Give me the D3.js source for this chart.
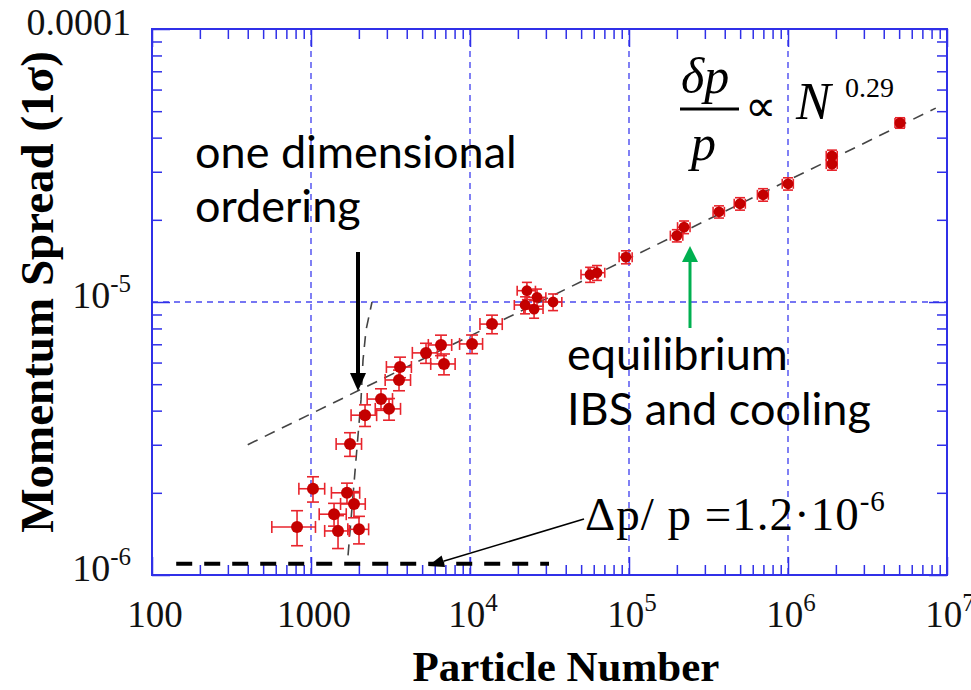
<!DOCTYPE html>
<html>
<head>
<meta charset="utf-8">
<script src="https://cdn.jsdelivr.net/npm/d3@7"></script>
<style>
  body { margin: 0; background: #fff; }
  svg { display: block; }
</style>
</head>
<body>
<svg id="chart" width="971" height="690"></svg>
<script>
// measured points: particle number and momentum spread (spread in units of 1e-6)
var particles   = [817, 1029, 1396, 1479, 1684, 1759, 1864, 2004, 2187, 2756, 3096, 3577, 3630, 5289, 6570, 6861, 10300, 13750,
                   22200, 22800, 26400, 25300, 33300, 56900, 62900, 95700, 200000, 222000, 368000, 499000, 697000, 1000000, 1890000, 1890000, 5060000];
var particleErr = [250, 190, 270, 260, 340, 320, 330, 300, 400, 500, 560, 650, 650, 950, 1100, 1200, 1700, 2200,
                   3200, 3000, 3600, 3500, 4500, 7000, 7500, 9000, 18000, 20000, 30000, 40000, 55000, 80000, 150000, 150000, 350000];
var spread      = [1.50, 2.07, 1.67, 1.45, 2.00, 3.02, 1.82, 1.47, 3.85, 4.41, 4.06, 5.18, 5.78, 6.51, 6.96, 5.93, 7.02, 8.30,
                   9.75, 11.0, 10.4, 9.42, 10.0, 12.6, 12.8, 14.6, 17.5, 18.8, 21.4, 22.9, 24.7, 27.1, 34.3, 32.0, 45.3];
var spreadErr   = [0.22, 0.22, 0.16, 0.20, 0.17, 0.30, 0.20, 0.17, 0.35, 0.40, 0.37, 0.45, 0.50, 0.55, 0.60, 0.52, 0.55, 0.65,
                   0.7, 0.8, 0.75, 0.7, 0.7, 0.8, 0.8, 0.8, 0.9, 1.0, 1.1, 1.2, 1.3, 1.4, 1.7, 1.6, 2.0];

// N^0.29 fit and the one dimensional ordering jump
var fitN = [400, 8500000];
var fitSpread = [3.0, 51.3];
var orderN = [1710, 1918, 2063, 2124, 2218, 2419];
var orderSpread = [1.18, 2.64, 4.38, 6.13, 7.89, 10.0];

// dp/p = 1.2e-6 limit
var floorN = [142, 31400];
var floorSpread = [1.1, 1.1];

var xMajor = [100, 1000, 1e4, 1e5, 1e6, 1e7];
var xLabels = [["100", ""], ["1000", ""], ["10", "4"], ["10", "5"], ["10", "6"], ["10", "7"]];
var yMajor = [1, 10, 100];
var yLabels = [["10", "-6"], ["10", "-5"], ["0.0001", ""]];

var svg = d3.select("#chart");
var blue = "#3030e8";
var serif = "'Liberation Serif', 'Times New Roman', serif";
var sans = "Lato, 'Open Sans', sans-serif";

var x = d3.scaleLog().domain([100, 1e7]).range([152, 947]);
var y = d3.scaleLog().domain([1, 100]).range([575, 29]);

function isMajor(d) { var l = Math.log10(d); return Math.abs(l - Math.round(l)) < 1e-6; }
var minorX = x.ticks().filter(function(d) { return !isMajor(d); });
var minorY = y.ticks().filter(function(d) { return !isMajor(d); });

// grid
svg.append("g").selectAll("line").data(xMajor.slice(1, -1)).enter().append("line")
   .attr("x1", d => x(d)).attr("x2", d => x(d)).attr("y1", 29).attr("y2", 575)
   .attr("stroke", "#4a4af0").attr("stroke-width", 1.4).attr("stroke-dasharray", "6,5");
svg.append("g").selectAll("line").data([10]).enter().append("line")
   .attr("x1", 152).attr("x2", 947).attr("y1", d => y(d)).attr("y2", d => y(d))
   .attr("stroke", "#4a4af0").attr("stroke-width", 1.4).attr("stroke-dasharray", "6,5");

function ticks(axisFn, scale, vals, len, tr) {
  var g = svg.append("g").attr("transform", tr)
     .call(axisFn(scale).tickValues(vals).tickSize(-len).tickFormat(""));
  g.select(".domain").remove();
  g.selectAll("line").attr("stroke", blue).attr("stroke-width", 1.5);
}
ticks(d3.axisBottom, x, minorX, 10, "translate(0,575)");
ticks(d3.axisBottom, x, xMajor, 18, "translate(0,575)");
ticks(d3.axisTop, x, minorX, 10, "translate(0,29)");
ticks(d3.axisTop, x, xMajor, 18, "translate(0,29)");
ticks(d3.axisLeft, y, minorY, 10, "translate(152,0)");
ticks(d3.axisLeft, y, yMajor, 18, "translate(152,0)");
ticks(d3.axisRight, y, minorY, 10, "translate(947,0)");
ticks(d3.axisRight, y, yMajor, 18, "translate(947,0)");

svg.append("rect").attr("x", 152).attr("y", 29).attr("width", 795).attr("height", 546)
   .attr("fill", "none").attr("stroke", blue).attr("stroke-width", 2);

// tick labels
var xl = svg.append("g").selectAll("text").data(xMajor).enter().append("text")
   .attr("x", d => x(d) + 3).attr("y", 627).attr("text-anchor", "middle")
   .style("font-family", serif).style("font-size", "37px").style("fill", "#111");
xl.append("tspan").text((d, i) => xLabels[i][0]);
xl.append("tspan").attr("dy", -16).style("font-size", "25px").text((d, i) => xLabels[i][1]);

var yl = svg.append("g").selectAll("text").data(yMajor).enter().append("text")
   .attr("x", 131).attr("y", d => y(d) + 6).attr("text-anchor", "end")
   .style("font-family", serif).style("font-size", "38px").style("fill", "#111");
yl.append("tspan").text((d, i) => yLabels[i][0]);
yl.append("tspan").attr("dy", -16).style("font-size", "25px").text((d, i) => yLabels[i][1]);

// axis titles
svg.append("text").attr("x", 566).attr("y", 681).attr("text-anchor", "middle")
   .style("font-family", serif).style("font-weight", "bold").style("font-size", "43px")
   .text("Particle Number");
svg.append("text").attr("transform", "translate(53,292) rotate(-90)").attr("text-anchor", "middle")
   .style("font-family", serif).style("font-weight", "bold").style("font-size", "47px")
   .text("Momentum Spread (1σ)");

// fit lines
var line = d3.line().x(d => x(d[0])).y(d => y(d[1]));
svg.append("path").attr("d", line(d3.zip(fitN, fitSpread)))
   .attr("fill", "none").attr("stroke", "#444").attr("stroke-width", 1.6).attr("stroke-dasharray", "11,8");
svg.append("path").attr("d", line(d3.zip(orderN, orderSpread)))
   .attr("fill", "none").attr("stroke", "#444").attr("stroke-width", 1.6).attr("stroke-dasharray", "11,8");

// limit line
svg.append("path").attr("d", line(d3.zip(floorN, floorSpread)))
   .attr("fill", "none").attr("stroke", "#000").attr("stroke-width", 4).attr("stroke-dasharray", "16,12");

// data with error bars
var pts = d3.range(particles.length);
var red = "#e8242c";
var eb = svg.append("g").attr("stroke", red).attr("stroke-width", 1.6);
pts.forEach(function(i) {
  var cx = x(particles[i]), cy = y(spread[i]);
  var xl0 = x(particles[i] - particleErr[i]), xr0 = x(particles[i] + particleErr[i]);
  var yt = y(spread[i] + spreadErr[i]), yb = y(spread[i] - spreadErr[i]);
  var cap = i < 18 ? 6 : 5;
  eb.append("line").attr("x1", xl0).attr("x2", xr0).attr("y1", cy).attr("y2", cy);
  eb.append("line").attr("x1", cx).attr("x2", cx).attr("y1", yt).attr("y2", yb);
  eb.append("line").attr("x1", xl0).attr("x2", xl0).attr("y1", cy - cap).attr("y2", cy + cap);
  eb.append("line").attr("x1", xr0).attr("x2", xr0).attr("y1", cy - cap).attr("y2", cy + cap);
  eb.append("line").attr("x1", cx - cap).attr("x2", cx + cap).attr("y1", yt).attr("y2", yt);
  eb.append("line").attr("x1", cx - cap).attr("x2", cx + cap).attr("y1", yb).attr("y2", yb);
});
svg.append("g").selectAll("circle").data(pts).enter().append("circle")
   .attr("cx", i => x(particles[i])).attr("cy", i => y(spread[i]))
   .attr("r", i => i < 18 ? 6 : 5.4).attr("fill", "#c40000");

// annotations
function arrow(x1, y1, x2, y2, color, w, hl, hw) {
  var a = Math.atan2(y2 - y1, x2 - x1);
  var bx = x2 - hl * Math.cos(a), by = y2 - hl * Math.sin(a);
  svg.append("line").attr("x1", x1).attr("y1", y1).attr("x2", bx).attr("y2", by)
     .attr("stroke", color).attr("stroke-width", w);
  var px = -Math.sin(a) * hw, py = Math.cos(a) * hw;
  svg.append("path").attr("d", "M" + x2 + "," + y2 + "L" + (bx + px) + "," + (by + py) + "L" + (bx - px) + "," + (by - py) + "Z")
     .attr("fill", color);
}
arrow(358, 252, 358, 391, "#000", 4, 18, 8);
arrow(690, 328, 690, 246, "#00b050", 3, 16, 8);
arrow(584, 519, x(5445), y(1.08), "#000", 1.6, 16, 6);

function note(tx, ty, str) {
  svg.append("text").attr("x", tx).attr("y", ty).style("font-family", sans)
     .style("font-size", "45px").style("fill", "#000").text(str);
}
note(195, 168, "one dimensional");
note(195, 222, "ordering");
note(567, 370, "equilibrium");
note(567, 425, "IBS and cooling");

var dp = svg.append("text").attr("x", 585).attr("y", 530)
   .style("font-family", serif).style("font-size", "47px").style("letter-spacing", "1px");
dp.append("tspan").text("Δp/ p =1.2·10");
dp.append("tspan").attr("dy", -19).style("font-size", "29px").text("-6");

// scaling law
svg.append("text").attr("x", 681).attr("y", 93).style("font-family", serif).style("font-style", "italic")
   .style("font-size", "50px").text("δp");
svg.append("line").attr("x1", 680).attr("x2", 739).attr("y1", 109).attr("y2", 109)
   .attr("stroke", "#000").attr("stroke-width", 2.8);
svg.append("text").attr("x", 691).attr("y", 160).style("font-family", serif).style("font-style", "italic")
   .style("font-size", "50px").text("p");
svg.append("text").attr("x", 745).attr("y", 121).style("font-family", serif)
   .style("font-size", "44px").text("∝");
svg.append("text").attr("x", 796).attr("y", 119).style("font-family", serif).style("font-style", "italic")
   .style("font-size", "52px").text("N");
svg.append("text").attr("x", 845).attr("y", 97).style("font-family", serif)
   .style("font-size", "28px").text("0.29");
</script>
</body>
</html>
